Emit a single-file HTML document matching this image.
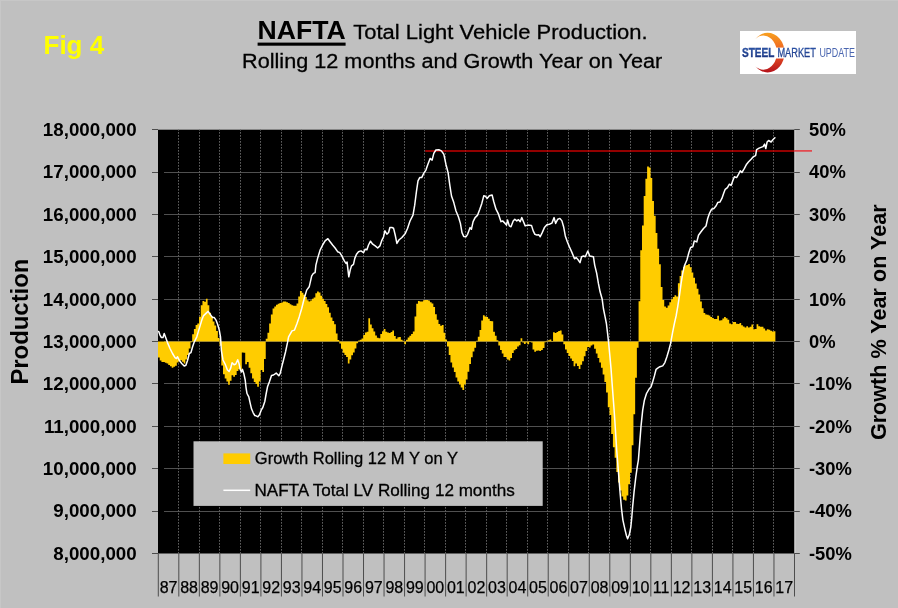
<!DOCTYPE html>
<html lang="en"><head><meta charset="utf-8"><title>NAFTA Total Light Vehicle Production</title>
<style>html,body{margin:0;padding:0;background:#c0c0c0;overflow:hidden}svg{display:block}text{font-family:"Liberation Sans", Arial, Helvetica, sans-serif}</style></head><body>
<svg width="898" height="608" viewBox="0 0 898 608">
<defs><linearGradient id="lg" x1="0" y1="0" x2="0" y2="1"><stop offset="0" stop-color="#f7a01f"/><stop offset="0.5" stop-color="#ee5a24"/><stop offset="1" stop-color="#b5121b"/></linearGradient>
<linearGradient id="tg" x1="0" y1="0" x2="0" y2="1"><stop offset="0" stop-color="#2f62b5"/><stop offset="1" stop-color="#16286e"/></linearGradient></defs>
<rect width="898" height="608" fill="#c0c0c0"/>
<rect x="0" y="0" width="898" height="1" fill="#c7c7c7"/><rect x="0" y="0" width="1" height="608" fill="#c7c7c7"/>
<text transform="translate(257.5,39.4) scale(1.036,1)" font-size="25.7" font-weight="bold" fill="#000">NAFTA</text>
<rect x="257.6" y="42.6" width="88" height="3.1" fill="#000"/>
<text transform="translate(353.3,39.4) scale(1.0466,1)" font-size="21" fill="#000" stroke="#000" stroke-width="0.3">Total Light Vehicle Production.</text>
<text transform="translate(242,68.4) scale(1.032,1)" font-size="21" fill="#000" stroke="#000" stroke-width="0.3">Rolling 12 months and Growth Year on Year</text>
<text transform="translate(43.5,54)" font-size="26" font-weight="bold" fill="#ffff00">Fig 4</text>
<rect x="740" y="31" width="116" height="43" fill="#fff"/>
<path d="M755.4,39 A16.9,19.85 0 1 1 755.4,66.3 A13.4,17.05 0 1 0 755.4,39Z" fill="url(#lg)"/>
<rect x="741" y="47.6" width="114" height="10.9" fill="#fff"/>
<text x="742" y="57.2" font-size="12" font-weight="bold" fill="url(#tg)" stroke="#1d3a8c" stroke-width="0.35" textLength="32.3" lengthAdjust="spacingAndGlyphs">STEEL</text>
<text x="777.4" y="57.2" font-size="12" fill="url(#tg)" stroke="#27479a" stroke-width="0.3" textLength="38.5" lengthAdjust="spacingAndGlyphs">MARKET</text>
<text x="819.4" y="57.2" font-size="12" fill="#4a66b0" textLength="35.5" lengthAdjust="spacingAndGlyphs">UPDATE</text>
<rect x="794.2" y="129.7" width="1.6" height="423.8" fill="#cecece"/>
<rect x="158.0" y="129.7" width="636.2" height="423.8" fill="#000"/>
<line x1="164" x2="794.2" y1="172.5" y2="172.5" stroke="#505050" stroke-width="1"/>
<line x1="164" x2="794.2" y1="214.5" y2="214.5" stroke="#505050" stroke-width="1"/>
<line x1="164" x2="794.2" y1="256.5" y2="256.5" stroke="#505050" stroke-width="1"/>
<line x1="164" x2="794.2" y1="299.5" y2="299.5" stroke="#505050" stroke-width="1"/>
<line x1="164" x2="794.2" y1="341.5" y2="341.5" stroke="#505050" stroke-width="1"/>
<line x1="164" x2="794.2" y1="383.5" y2="383.5" stroke="#505050" stroke-width="1"/>
<line x1="164" x2="794.2" y1="426.5" y2="426.5" stroke="#505050" stroke-width="1"/>
<line x1="164" x2="794.2" y1="468.5" y2="468.5" stroke="#505050" stroke-width="1"/>
<line x1="164" x2="794.2" y1="511.5" y2="511.5" stroke="#505050" stroke-width="1"/>
<line x1="178.5" x2="178.5" y1="129.7" y2="553.5" stroke="#5e5e5e" stroke-width="1" stroke-dasharray="1.7 1.3" stroke-dashoffset="0.7"/>
<line x1="199.5" x2="199.5" y1="129.7" y2="553.5" stroke="#5e5e5e" stroke-width="1" stroke-dasharray="1.7 1.3" stroke-dashoffset="0.7"/>
<line x1="219.5" x2="219.5" y1="129.7" y2="553.5" stroke="#5e5e5e" stroke-width="1" stroke-dasharray="1.7 1.3" stroke-dashoffset="0.7"/>
<line x1="240.5" x2="240.5" y1="129.7" y2="553.5" stroke="#5e5e5e" stroke-width="1" stroke-dasharray="1.7 1.3" stroke-dashoffset="0.7"/>
<line x1="260.5" x2="260.5" y1="129.7" y2="553.5" stroke="#5e5e5e" stroke-width="1" stroke-dasharray="1.7 1.3" stroke-dashoffset="0.7"/>
<line x1="281.5" x2="281.5" y1="129.7" y2="553.5" stroke="#5e5e5e" stroke-width="1" stroke-dasharray="1.7 1.3" stroke-dashoffset="0.7"/>
<line x1="301.5" x2="301.5" y1="129.7" y2="553.5" stroke="#5e5e5e" stroke-width="1" stroke-dasharray="1.7 1.3" stroke-dashoffset="0.7"/>
<line x1="322.5" x2="322.5" y1="129.7" y2="553.5" stroke="#5e5e5e" stroke-width="1" stroke-dasharray="1.7 1.3" stroke-dashoffset="0.7"/>
<line x1="342.5" x2="342.5" y1="129.7" y2="553.5" stroke="#5e5e5e" stroke-width="1" stroke-dasharray="1.7 1.3" stroke-dashoffset="0.7"/>
<line x1="363.5" x2="363.5" y1="129.7" y2="553.5" stroke="#5e5e5e" stroke-width="1" stroke-dasharray="1.7 1.3" stroke-dashoffset="0.7"/>
<line x1="383.5" x2="383.5" y1="129.7" y2="553.5" stroke="#5e5e5e" stroke-width="1" stroke-dasharray="1.7 1.3" stroke-dashoffset="0.7"/>
<line x1="404.5" x2="404.5" y1="129.7" y2="553.5" stroke="#5e5e5e" stroke-width="1" stroke-dasharray="1.7 1.3" stroke-dashoffset="0.7"/>
<line x1="424.5" x2="424.5" y1="129.7" y2="553.5" stroke="#5e5e5e" stroke-width="1" stroke-dasharray="1.7 1.3" stroke-dashoffset="0.7"/>
<line x1="445.5" x2="445.5" y1="129.7" y2="553.5" stroke="#5e5e5e" stroke-width="1" stroke-dasharray="1.7 1.3" stroke-dashoffset="0.7"/>
<line x1="465.5" x2="465.5" y1="129.7" y2="553.5" stroke="#5e5e5e" stroke-width="1" stroke-dasharray="1.7 1.3" stroke-dashoffset="0.7"/>
<line x1="486.5" x2="486.5" y1="129.7" y2="553.5" stroke="#5e5e5e" stroke-width="1" stroke-dasharray="1.7 1.3" stroke-dashoffset="0.7"/>
<line x1="506.5" x2="506.5" y1="129.7" y2="553.5" stroke="#5e5e5e" stroke-width="1" stroke-dasharray="1.7 1.3" stroke-dashoffset="0.7"/>
<line x1="527.5" x2="527.5" y1="129.7" y2="553.5" stroke="#5e5e5e" stroke-width="1" stroke-dasharray="1.7 1.3" stroke-dashoffset="0.7"/>
<line x1="547.5" x2="547.5" y1="129.7" y2="553.5" stroke="#5e5e5e" stroke-width="1" stroke-dasharray="1.7 1.3" stroke-dashoffset="0.7"/>
<line x1="568.5" x2="568.5" y1="129.7" y2="553.5" stroke="#5e5e5e" stroke-width="1" stroke-dasharray="1.7 1.3" stroke-dashoffset="0.7"/>
<line x1="588.5" x2="588.5" y1="129.7" y2="553.5" stroke="#5e5e5e" stroke-width="1" stroke-dasharray="1.7 1.3" stroke-dashoffset="0.7"/>
<line x1="609.5" x2="609.5" y1="129.7" y2="553.5" stroke="#5e5e5e" stroke-width="1" stroke-dasharray="1.7 1.3" stroke-dashoffset="0.7"/>
<line x1="630.5" x2="630.5" y1="129.7" y2="553.5" stroke="#5e5e5e" stroke-width="1" stroke-dasharray="1.7 1.3" stroke-dashoffset="0.7"/>
<line x1="650.5" x2="650.5" y1="129.7" y2="553.5" stroke="#5e5e5e" stroke-width="1" stroke-dasharray="1.7 1.3" stroke-dashoffset="0.7"/>
<line x1="671.5" x2="671.5" y1="129.7" y2="553.5" stroke="#5e5e5e" stroke-width="1" stroke-dasharray="1.7 1.3" stroke-dashoffset="0.7"/>
<line x1="691.5" x2="691.5" y1="129.7" y2="553.5" stroke="#5e5e5e" stroke-width="1" stroke-dasharray="1.7 1.3" stroke-dashoffset="0.7"/>
<line x1="712.5" x2="712.5" y1="129.7" y2="553.5" stroke="#5e5e5e" stroke-width="1" stroke-dasharray="1.7 1.3" stroke-dashoffset="0.7"/>
<line x1="732.5" x2="732.5" y1="129.7" y2="553.5" stroke="#5e5e5e" stroke-width="1" stroke-dasharray="1.7 1.3" stroke-dashoffset="0.7"/>
<line x1="753.5" x2="753.5" y1="129.7" y2="553.5" stroke="#5e5e5e" stroke-width="1" stroke-dasharray="1.7 1.3" stroke-dashoffset="0.7"/>
<line x1="773.5" x2="773.5" y1="129.7" y2="553.5" stroke="#5e5e5e" stroke-width="1" stroke-dasharray="1.7 1.3" stroke-dashoffset="0.7"/>
<path d="M158.00,341.60L158.00,357.5L159.71,357.5L159.71,360.6L161.42,360.6L161.42,361.9L163.13,361.9L163.13,362.1L164.84,362.1L164.84,362.8L166.55,362.8L166.55,363.5L168.26,363.5L168.26,364.9L169.97,364.9L169.97,366.3L171.68,366.3L171.68,367.7L173.39,367.7L173.39,366.8L175.10,366.8L175.10,365.7L176.81,365.7L176.81,362.4L178.52,362.4L178.52,361.1L180.23,361.1L180.23,360.3L181.94,360.3L181.94,361.7L183.65,361.7L183.65,363.4L185.36,363.4L185.36,359.6L187.07,359.6L187.07,354.9L188.78,354.9L188.78,348.6L190.49,348.6L190.49,342.2L192.20,342.2L192.20,334.2L193.91,334.2L193.91,329.1L195.62,329.1L195.62,324.9L197.33,324.9L197.33,323.5L199.05,323.5L199.05,316.7L200.76,316.7L200.76,305.3L202.47,305.3L202.47,301.0L204.18,301.0L204.18,301.7L205.89,301.7L205.89,298.8L207.60,298.8L207.60,305.2L209.31,305.2L209.31,312.7L211.02,312.7L211.02,316.2L212.73,316.2L212.73,321.4L214.44,321.4L214.44,325.6L216.15,325.6L216.15,330.9L217.86,330.9L217.86,338.0L219.57,338.0L219.57,345.7L221.28,345.7L221.28,365.4L222.99,365.4L222.99,374.2L224.70,374.2L224.70,378.5L226.41,378.5L226.41,381.5L228.12,381.5L228.12,384.8L229.83,384.8L229.83,380.8L231.54,380.8L231.54,375.3L233.25,375.3L233.25,376.8L234.96,376.8L234.96,375.1L236.67,375.1L236.67,370.9L238.38,370.9L238.38,369.3L240.09,369.3L240.09,370.6L241.80,370.6L241.80,352.6L243.51,352.6L243.51,352.8L245.22,352.8L245.22,364.2L246.93,364.2L246.93,362.0L248.64,362.0L248.64,367.7L250.35,367.7L250.35,373.3L252.06,373.3L252.06,378.6L253.77,378.6L253.77,382.0L255.48,382.0L255.48,384.0L257.19,384.0L257.19,386.7L258.90,386.7L258.90,381.5L260.61,381.5L260.61,370.1L262.32,370.1L262.32,372.1L264.03,372.1L264.03,358.9L265.74,358.9L265.74,338.7L267.45,338.7L267.45,332.8L269.16,332.8L269.16,323.6L270.87,323.6L270.87,314.4L272.58,314.4L272.58,308.4L274.29,308.4L274.29,306.5L276.00,306.5L276.00,304.7L277.72,304.7L277.72,303.7L279.43,303.7L279.43,303.1L281.14,303.1L281.14,302.5L282.85,302.5L282.85,301.5L284.56,301.5L284.56,301.4L286.27,301.4L286.27,302.2L287.98,302.2L287.98,303.1L289.69,303.1L289.69,304.2L291.40,304.2L291.40,305.3L293.11,305.3L293.11,305.7L294.82,305.7L294.82,305.7L296.53,305.7L296.53,303.6L298.24,303.6L298.24,296.5L299.95,296.5L299.95,291.0L301.66,291.0L301.66,292.7L303.37,292.7L303.37,294.7L305.08,294.7L305.08,297.1L306.79,297.1L306.79,300.3L308.50,300.3L308.50,301.5L310.21,301.5L310.21,300.5L311.92,300.5L311.92,298.8L313.63,298.8L313.63,297.5L315.34,297.5L315.34,293.3L317.05,293.3L317.05,291.6L318.76,291.6L318.76,292.6L320.47,292.6L320.47,295.8L322.18,295.8L322.18,298.8L323.89,298.8L323.89,300.9L325.60,300.9L325.60,303.9L327.31,303.9L327.31,307.2L329.02,307.2L329.02,312.7L330.73,312.7L330.73,317.4L332.44,317.4L332.44,321.1L334.15,321.1L334.15,324.2L335.86,324.2L335.86,333.5L337.57,333.5L337.57,340.1L339.28,340.1L339.28,343.4L340.99,343.4L340.99,348.8L342.70,348.8L342.70,352.8L344.41,352.8L344.41,355.0L346.12,355.0L346.12,357.0L347.83,357.0L347.83,363.6L349.54,363.6L349.54,359.4L351.25,359.4L351.25,355.3L352.96,355.3L352.96,352.4L354.67,352.4L354.67,348.5L356.38,348.5L356.38,343.2L358.10,343.2L358.10,340.5L359.81,340.5L359.81,339.7L361.52,339.7L361.52,338.4L363.23,338.4L363.23,335.1L364.94,335.1L364.94,332.4L366.65,332.4L366.65,331.8L368.36,331.8L368.36,318.2L370.07,318.2L370.07,324.6L371.78,324.6L371.78,328.3L373.49,328.3L373.49,331.4L375.20,331.4L375.20,335.6L376.91,335.6L376.91,337.7L378.62,337.7L378.62,338.3L380.33,338.3L380.33,334.1L382.04,334.1L382.04,331.2L383.75,331.2L383.75,329.1L385.46,329.1L385.46,331.8L387.17,331.8L387.17,332.4L388.88,332.4L388.88,332.9L390.59,332.9L390.59,332.0L392.30,332.0L392.30,330.6L394.01,330.6L394.01,336.0L395.72,336.0L395.72,338.7L397.43,338.7L397.43,337.3L399.14,337.3L399.14,336.9L400.85,336.9L400.85,339.8L402.56,339.8L402.56,340.8L404.27,340.8L404.27,344.2L405.98,344.2L405.98,339.7L407.69,339.7L407.69,337.6L409.40,337.6L409.40,335.8L411.11,335.8L411.11,334.1L412.82,334.1L412.82,331.5L414.53,331.5L414.53,316.5L416.24,316.5L416.24,303.8L417.95,303.8L417.95,301.0L419.66,301.0L419.66,301.4L421.37,301.4L421.37,301.5L423.08,301.5L423.08,300.3L424.79,300.3L424.79,300.0L426.50,300.0L426.50,300.0L428.21,300.0L428.21,300.5L429.92,300.5L429.92,302.2L431.63,302.2L431.63,303.4L433.34,303.4L433.34,307.0L435.05,307.0L435.05,314.2L436.77,314.2L436.77,319.7L438.48,319.7L438.48,324.0L440.19,324.0L440.19,325.7L441.90,325.7L441.90,325.1L443.61,325.1L443.61,332.8L445.32,332.8L445.32,339.5L447.03,339.5L447.03,346.6L448.74,346.6L448.74,355.1L450.45,355.1L450.45,362.5L452.16,362.5L452.16,367.4L453.87,367.4L453.87,371.9L455.58,371.9L455.58,377.6L457.29,377.6L457.29,381.4L459.00,381.4L459.00,384.6L460.71,384.6L460.71,387.5L462.42,387.5L462.42,390.1L464.13,390.1L464.13,384.5L465.84,384.5L465.84,379.5L467.55,379.5L467.55,371.8L469.26,371.8L469.26,364.1L470.97,364.1L470.97,357.2L472.68,357.2L472.68,351.5L474.39,351.5L474.39,347.7L476.10,347.7L476.10,340.8L477.81,340.8L477.81,336.7L479.52,336.7L479.52,330.1L481.23,330.1L481.23,320.5L482.94,320.5L482.94,315.3L484.65,315.3L484.65,316.4L486.36,316.4L486.36,317.1L488.07,317.1L488.07,318.8L489.78,318.8L489.78,321.0L491.49,321.0L491.49,321.3L493.20,321.3L493.20,331.7L494.91,331.7L494.91,335.8L496.62,335.8L496.62,340.3L498.33,340.3L498.33,345.5L500.04,345.5L500.04,350.0L501.75,350.0L501.75,353.4L503.46,353.4L503.46,356.9L505.17,356.9L505.17,357.1L506.88,357.1L506.88,359.6L508.59,359.6L508.59,360.4L510.30,360.4L510.30,358.1L512.01,358.1L512.01,353.1L513.72,353.1L513.72,350.2L515.43,350.2L515.43,348.9L517.15,348.9L517.15,346.6L518.86,346.6L518.86,345.2L520.57,345.2L520.57,338.2L522.28,338.2L522.28,342.4L523.99,342.4L523.99,343.9L525.70,343.9L525.70,342.5L527.41,342.5L527.41,344.3L529.12,344.3L529.12,341.0L530.83,341.0L530.83,342.4L532.54,342.4L532.54,349.5L534.25,349.5L534.25,351.7L535.96,351.7L535.96,350.7L537.67,350.7L537.67,350.4L539.38,350.4L539.38,350.9L541.09,350.9L541.09,350.1L542.80,350.1L542.80,347.9L544.51,347.9L544.51,342.3L546.22,342.3L546.22,340.8L547.93,340.8L547.93,340.3L549.64,340.3L549.64,339.6L551.35,339.6L551.35,341.0L553.06,341.0L553.06,332.3L554.77,332.3L554.77,333.1L556.48,333.1L556.48,332.0L558.19,332.0L558.19,330.9L559.90,330.9L559.90,330.4L561.61,330.4L561.61,334.5L563.32,334.5L563.32,344.2L565.03,344.2L565.03,349.6L566.74,349.6L566.74,353.0L568.45,353.0L568.45,355.9L570.16,355.9L570.16,358.6L571.87,358.6L571.87,360.9L573.58,360.9L573.58,366.2L575.29,366.2L575.29,363.4L577.00,363.4L577.00,366.0L578.71,366.0L578.71,369.1L580.42,369.1L580.42,364.8L582.13,364.8L582.13,361.2L583.84,361.2L583.84,356.2L585.55,356.2L585.55,351.1L587.26,351.1L587.26,346.9L588.97,346.9L588.97,347.5L590.68,347.5L590.68,345.6L592.39,345.6L592.39,344.6L594.10,344.6L594.10,348.7L595.82,348.7L595.82,353.4L597.53,353.4L597.53,358.0L599.24,358.0L599.24,362.6L600.95,362.6L600.95,367.7L602.66,367.7L602.66,374.5L604.37,374.5L604.37,382.0L606.08,382.0L606.08,392.4L607.79,392.4L607.79,407.3L609.50,407.3L609.50,414.9L611.21,414.9L611.21,433.9L612.92,433.9L612.92,447.3L614.63,447.3L614.63,457.8L616.34,457.8L616.34,472.1L618.05,472.1L618.05,482.6L619.76,482.6L619.76,490.6L621.47,490.6L621.47,496.4L623.18,496.4L623.18,499.7L624.89,499.7L624.89,500.6L626.60,500.6L626.60,495.4L628.31,495.4L628.31,484.2L630.02,484.2L630.02,472.8L631.73,472.8L631.73,445.3L633.44,445.3L633.44,414.3L635.15,414.3L635.15,377.8L636.86,377.8L636.86,347.8L638.57,347.8L638.57,301.3L640.28,301.3L640.28,250.3L641.99,250.3L641.99,225.6L643.70,225.6L643.70,195.9L645.41,195.9L645.41,178.7L647.12,178.7L647.12,166.4L648.83,166.4L648.83,167.5L650.54,167.5L650.54,177.9L652.25,177.9L652.25,201.0L653.96,201.0L653.96,215.7L655.67,215.7L655.67,233.1L657.38,233.1L657.38,248.8L659.09,248.8L659.09,264.2L660.80,264.2L660.80,287.0L662.51,287.0L662.51,300.1L664.22,300.1L664.22,306.5L665.93,306.5L665.93,307.7L667.64,307.7L667.64,305.6L669.35,305.6L669.35,302.3L671.06,302.3L671.06,299.3L672.77,299.3L672.77,297.1L674.48,297.1L674.48,295.3L676.20,295.3L676.20,296.6L677.91,296.6L677.91,283.2L679.62,283.2L679.62,275.9L681.33,275.9L681.33,270.6L683.04,270.6L683.04,266.9L684.75,266.9L684.75,265.5L686.46,265.5L686.46,264.9L688.17,264.9L688.17,264.1L689.88,264.1L689.88,267.2L691.59,267.2L691.59,272.5L693.30,272.5L693.30,277.8L695.01,277.8L695.01,283.6L696.72,283.6L696.72,288.8L698.43,288.8L698.43,294.5L700.14,294.5L700.14,301.6L701.85,301.6L701.85,308.2L703.56,308.2L703.56,313.0L705.27,313.0L705.27,314.4L706.98,314.4L706.98,314.8L708.69,314.8L708.69,315.6L710.40,315.6L710.40,317.1L712.11,317.1L712.11,318.0L713.82,318.0L713.82,319.0L715.53,319.0L715.53,319.0L717.24,319.0L717.24,315.8L718.95,315.8L718.95,320.6L720.66,320.6L720.66,320.3L722.37,320.3L722.37,318.6L724.08,318.6L724.08,316.9L725.79,316.9L725.79,318.2L727.50,318.2L727.50,319.8L729.21,319.8L729.21,323.6L730.92,323.6L730.92,324.3L732.63,324.3L732.63,322.1L734.34,322.1L734.34,321.9L736.05,321.9L736.05,323.8L737.76,323.8L737.76,324.1L739.47,324.1L739.47,323.1L741.18,323.1L741.18,325.3L742.89,325.3L742.89,326.6L744.60,326.6L744.60,327.6L746.31,327.6L746.31,326.2L748.02,326.2L748.02,327.4L749.73,327.4L749.73,326.7L751.44,326.7L751.44,324.6L753.15,324.6L753.15,329.2L754.87,329.2L754.87,329.0L756.58,329.0L756.58,324.2L758.29,324.2L758.29,326.2L760.00,326.2L760.00,326.7L761.71,326.7L761.71,326.7L763.42,326.7L763.42,328.5L765.13,328.5L765.13,330.4L766.84,330.4L766.84,329.3L768.55,329.3L768.55,329.8L770.26,329.8L770.26,330.8L771.97,330.8L771.97,331.4L773.68,331.4L773.68,331.2L775.39,331.2L775.39,341.60Z" fill="#ffcc00"/>
<line x1="425.2" x2="794.2" y1="150.9" y2="150.9" stroke="#c40000" stroke-width="1.5"/>
<line x1="794.2" x2="812" y1="150.9" y2="150.9" stroke="#e8343a" stroke-width="1.5"/>
<path d="M158.7,331.4L160.0,335.1L161.4,337.6L163.0,337.6L164.2,333.4L165.4,336.8L167.5,342.6L170.0,348.5L172.5,353.5L175.0,357.7L176.4,358.5L177.6,356.8L179.2,360.2L181.7,363.5L184.2,366.0L185.9,365.2L187.6,360.2L189.3,353.5L190.9,352.7L192.6,346.8L194.3,341.8L196.8,336.8L199.3,328.4L201.8,320.1L203.4,315.9L206.0,313.4L208.1,311.4L210.1,314.2L212.6,317.6L214.3,317.6L216.0,320.1L217.6,324.3L219.3,330.1L220.5,336.8L221.4,350.7L223.0,360.0L225.4,364.7L227.4,370.0L229.1,371.4L230.5,368.7L232.1,362.7L234.1,364.7L235.8,364.0L237.7,359.8L239.0,363.4L240.4,370.0L241.4,372.0L242.5,369.4L243.8,373.4L245.2,380.0L246.1,388.1L247.0,393.5L248.8,396.8L250.1,402.8L251.5,408.8L253.2,412.8L254.8,415.5L256.1,415.9L257.9,416.8L259.5,414.8L261.2,410.2L262.8,407.5L264.8,401.5L266.2,393.5L267.5,386.8L269.5,381.4L271.5,375.4L273.5,375.0L276.2,373.1L278.8,375.8L280.2,373.4L281.8,366.7L283.5,360.0L285.5,352.0L287.5,342.7L288.6,336.8L292.0,330.9L294.5,330.1L297.0,323.4L299.2,316.9L301.7,308.5L304.2,298.5L306.7,290.1L309.2,286.8L311.7,275.9L313.4,273.4L315.1,272.6L315.9,265.1L317.6,258.4L320.1,250.1L322.6,245.0L325.1,240.9L327.9,238.7L330.1,241.7L332.6,245.0L335.1,248.0L337.6,251.7L339.8,252.6L341.8,255.9L344.3,260.9L346.0,263.4L347.1,262.1L348.0,270.1L348.8,276.8L350.2,270.1L351.5,265.9L353.5,264.3L354.8,258.4L356.5,254.2L358.5,251.7L361.0,250.9L363.5,252.6L365.2,249.2L366.9,249.7L368.5,245.0L370.5,241.2L372.7,244.2L375.2,245.9L377.7,248.0L379.9,245.9L381.6,240.9L383.6,236.7L384.9,230.8L386.9,234.2L388.6,232.5L389.9,227.5L391.9,227.5L393.6,228.3L395.2,235.0L396.9,243.4L398.9,240.0L401.9,237.5L405.3,233.4L407.5,228.5L410.0,221.0L413.0,215.2L414.7,205.2L416.4,191.8L418.0,180.9L419.7,177.6L421.7,177.6L423.7,173.4L425.9,170.1L427.9,164.2L430.1,158.4L432.1,160.1L433.8,153.4L435.9,150.0L438.8,149.7L441.4,150.9L443.8,154.2L445.9,164.2L448.1,172.6L449.8,185.1L451.5,196.0L453.8,202.6L456.0,211.0L458.4,216.7L460.4,223.4L462.0,232.6L463.7,236.4L465.9,236.8L467.6,234.3L470.1,227.6L471.4,229.3L473.1,221.7L475.1,217.6L477.6,215.1L479.8,209.2L481.8,203.4L483.8,195.8L485.4,196.3L487.1,198.4L489.3,195.8L492.1,195.0L493.8,201.7L496.0,209.2L498.5,214.2L501.0,221.7L502.6,220.9L505.1,223.4L506.5,225.1L507.6,220.1L509.3,225.9L511.0,226.7L513.2,220.9L514.8,219.2L516.8,220.9L518.5,219.7L520.2,221.7L521.8,217.6L523.5,221.7L525.2,225.9L527.7,225.1L531.5,225.4L533.2,230.9L534.9,234.3L536.9,235.1L538.9,234.8L540.2,236.8L542.2,232.6L544.4,227.6L546.9,224.7L549.4,224.2L551.9,223.1L554.1,217.6L555.6,223.4L557.8,219.2L559.9,218.4L561.9,220.9L563.6,226.7L565.3,235.9L567.3,241.8L569.4,246.8L572.0,252.6L574.5,258.8L576.1,257.6L578.3,260.1L580.0,262.7L581.6,256.8L583.6,256.0L585.3,256.8L587.8,251.0L589.7,255.9L593.4,256.7L594.7,265.1L596.7,273.4L598.4,283.4L600.1,291.8L602.2,299.3L603.4,308.5L605.1,316.8L606.4,323.5L607.6,333.5L608.5,341.7L609.8,355.1L611.0,368.4L612.1,383.4L613.1,396.8L614.0,408.5L614.8,420.2L616.7,450.1L618.6,474.3L620.1,492.9L621.5,508.6L622.9,520.1L625.1,530.1L626.5,535.8L627.6,538.7L629.4,534.4L630.8,527.2L631.8,517.2L632.6,507.2L634.1,491.5L635.8,477.2L637.2,467.2L638.4,460.0L639.6,444.5L641.0,426.4L642.7,410.2L644.4,400.2L646.5,393.5L648.9,389.3L651.1,386.8L652.7,381.8L654.4,375.9L656.1,369.3L657.7,368.1L659.9,366.7L662.7,365.9L664.9,362.6L666.9,356.7L668.9,350.0L670.6,343.4L672.7,331.9L674.4,323.5L676.1,316.0L677.7,306.8L679.4,296.0L681.1,283.4L682.7,273.4L684.4,265.9L686.9,260.0L688.9,252.5L690.6,247.5L692.8,246.7L694.3,241.0L696.8,241.9L698.5,235.2L701.0,231.8L703.5,228.5L706.0,226.0L707.7,218.5L709.4,213.5L711.5,209.3L713.9,208.5L716.0,206.0L717.7,202.6L719.9,202.1L721.9,198.4L723.6,193.4L725.2,189.3L727.4,187.6L729.4,184.2L731.1,185.4L732.7,180.9L734.4,176.7L736.6,177.6L738.6,174.2L740.3,170.9L741.9,172.5L744.4,168.4L746.6,164.2L748.6,161.7L751.1,159.2L753.3,156.7L755.6,155.6L756.6,149.6L759.1,148.1L761.6,147.1L763.1,146.6L764.6,144.1L765.8,148.6L767.1,142.0L768.6,140.5L771.1,142.0L773.1,139.5L774.9,137.8" fill="none" stroke="#fff" stroke-width="1.5" stroke-linejoin="round" stroke-linecap="round"/>
<line x1="152" x2="158.0" y1="129.5" y2="129.5" stroke="#4d4d4d" stroke-width="1"/>
<line x1="794.2" x2="799.8" y1="129.5" y2="129.5" stroke="#4d4d4d" stroke-width="1"/>
<line x1="152" x2="158.0" y1="172.5" y2="172.5" stroke="#4d4d4d" stroke-width="1"/>
<line x1="794.2" x2="799.8" y1="172.5" y2="172.5" stroke="#4d4d4d" stroke-width="1"/>
<line x1="152" x2="158.0" y1="214.5" y2="214.5" stroke="#4d4d4d" stroke-width="1"/>
<line x1="794.2" x2="799.8" y1="214.5" y2="214.5" stroke="#4d4d4d" stroke-width="1"/>
<line x1="152" x2="158.0" y1="256.5" y2="256.5" stroke="#4d4d4d" stroke-width="1"/>
<line x1="794.2" x2="799.8" y1="256.5" y2="256.5" stroke="#4d4d4d" stroke-width="1"/>
<line x1="152" x2="158.0" y1="299.5" y2="299.5" stroke="#4d4d4d" stroke-width="1"/>
<line x1="794.2" x2="799.8" y1="299.5" y2="299.5" stroke="#4d4d4d" stroke-width="1"/>
<line x1="152" x2="158.0" y1="341.5" y2="341.5" stroke="#4d4d4d" stroke-width="1"/>
<line x1="794.2" x2="799.8" y1="341.5" y2="341.5" stroke="#4d4d4d" stroke-width="1"/>
<line x1="152" x2="158.0" y1="383.5" y2="383.5" stroke="#4d4d4d" stroke-width="1"/>
<line x1="794.2" x2="799.8" y1="383.5" y2="383.5" stroke="#4d4d4d" stroke-width="1"/>
<line x1="152" x2="158.0" y1="426.5" y2="426.5" stroke="#4d4d4d" stroke-width="1"/>
<line x1="794.2" x2="799.8" y1="426.5" y2="426.5" stroke="#4d4d4d" stroke-width="1"/>
<line x1="152" x2="158.0" y1="468.5" y2="468.5" stroke="#4d4d4d" stroke-width="1"/>
<line x1="794.2" x2="799.8" y1="468.5" y2="468.5" stroke="#4d4d4d" stroke-width="1"/>
<line x1="152" x2="158.0" y1="511.5" y2="511.5" stroke="#4d4d4d" stroke-width="1"/>
<line x1="794.2" x2="799.8" y1="511.5" y2="511.5" stroke="#4d4d4d" stroke-width="1"/>
<line x1="152" x2="158.0" y1="553.5" y2="553.5" stroke="#4d4d4d" stroke-width="1"/>
<line x1="794.2" x2="799.8" y1="553.5" y2="553.5" stroke="#4d4d4d" stroke-width="1"/>
<line x1="158.30" x2="158.30" y1="553.5" y2="596.5" stroke="#4d4d4d" stroke-width="1"/>
<line x1="178.82" x2="178.82" y1="553.5" y2="596.5" stroke="#4d4d4d" stroke-width="1"/>
<line x1="199.35" x2="199.35" y1="553.5" y2="596.5" stroke="#4d4d4d" stroke-width="1"/>
<line x1="219.87" x2="219.87" y1="553.5" y2="596.5" stroke="#4d4d4d" stroke-width="1"/>
<line x1="240.39" x2="240.39" y1="553.5" y2="596.5" stroke="#4d4d4d" stroke-width="1"/>
<line x1="260.91" x2="260.91" y1="553.5" y2="596.5" stroke="#4d4d4d" stroke-width="1"/>
<line x1="281.44" x2="281.44" y1="553.5" y2="596.5" stroke="#4d4d4d" stroke-width="1"/>
<line x1="301.96" x2="301.96" y1="553.5" y2="596.5" stroke="#4d4d4d" stroke-width="1"/>
<line x1="322.48" x2="322.48" y1="553.5" y2="596.5" stroke="#4d4d4d" stroke-width="1"/>
<line x1="343.00" x2="343.00" y1="553.5" y2="596.5" stroke="#4d4d4d" stroke-width="1"/>
<line x1="363.53" x2="363.53" y1="553.5" y2="596.5" stroke="#4d4d4d" stroke-width="1"/>
<line x1="384.05" x2="384.05" y1="553.5" y2="596.5" stroke="#4d4d4d" stroke-width="1"/>
<line x1="404.57" x2="404.57" y1="553.5" y2="596.5" stroke="#4d4d4d" stroke-width="1"/>
<line x1="425.09" x2="425.09" y1="553.5" y2="596.5" stroke="#4d4d4d" stroke-width="1"/>
<line x1="445.62" x2="445.62" y1="553.5" y2="596.5" stroke="#4d4d4d" stroke-width="1"/>
<line x1="466.14" x2="466.14" y1="553.5" y2="596.5" stroke="#4d4d4d" stroke-width="1"/>
<line x1="486.66" x2="486.66" y1="553.5" y2="596.5" stroke="#4d4d4d" stroke-width="1"/>
<line x1="507.18" x2="507.18" y1="553.5" y2="596.5" stroke="#4d4d4d" stroke-width="1"/>
<line x1="527.71" x2="527.71" y1="553.5" y2="596.5" stroke="#4d4d4d" stroke-width="1"/>
<line x1="548.23" x2="548.23" y1="553.5" y2="596.5" stroke="#4d4d4d" stroke-width="1"/>
<line x1="568.75" x2="568.75" y1="553.5" y2="596.5" stroke="#4d4d4d" stroke-width="1"/>
<line x1="589.27" x2="589.27" y1="553.5" y2="596.5" stroke="#4d4d4d" stroke-width="1"/>
<line x1="609.80" x2="609.80" y1="553.5" y2="596.5" stroke="#4d4d4d" stroke-width="1"/>
<line x1="630.32" x2="630.32" y1="553.5" y2="596.5" stroke="#4d4d4d" stroke-width="1"/>
<line x1="650.84" x2="650.84" y1="553.5" y2="596.5" stroke="#4d4d4d" stroke-width="1"/>
<line x1="671.36" x2="671.36" y1="553.5" y2="596.5" stroke="#4d4d4d" stroke-width="1"/>
<line x1="691.89" x2="691.89" y1="553.5" y2="596.5" stroke="#4d4d4d" stroke-width="1"/>
<line x1="712.41" x2="712.41" y1="553.5" y2="596.5" stroke="#4d4d4d" stroke-width="1"/>
<line x1="732.93" x2="732.93" y1="553.5" y2="596.5" stroke="#4d4d4d" stroke-width="1"/>
<line x1="753.45" x2="753.45" y1="553.5" y2="596.5" stroke="#4d4d4d" stroke-width="1"/>
<line x1="773.98" x2="773.98" y1="553.5" y2="596.5" stroke="#4d4d4d" stroke-width="1"/>
<line x1="794.50" x2="794.50" y1="553.5" y2="596.5" stroke="#4d4d4d" stroke-width="1"/>
<text transform="translate(136.7,136.0) scale(1.073,1)" font-size="17.5" font-weight="bold" text-anchor="end" fill="#000">18,000,000</text>
<text transform="translate(136.7,178.4) scale(1.073,1)" font-size="17.5" font-weight="bold" text-anchor="end" fill="#000">17,000,000</text>
<text transform="translate(136.7,220.8) scale(1.073,1)" font-size="17.5" font-weight="bold" text-anchor="end" fill="#000">16,000,000</text>
<text transform="translate(136.7,263.1) scale(1.073,1)" font-size="17.5" font-weight="bold" text-anchor="end" fill="#000">15,000,000</text>
<text transform="translate(136.7,305.5) scale(1.073,1)" font-size="17.5" font-weight="bold" text-anchor="end" fill="#000">14,000,000</text>
<text transform="translate(136.7,347.9) scale(1.073,1)" font-size="17.5" font-weight="bold" text-anchor="end" fill="#000">13,000,000</text>
<text transform="translate(136.7,390.3) scale(1.073,1)" font-size="17.5" font-weight="bold" text-anchor="end" fill="#000">12,000,000</text>
<text transform="translate(136.7,432.7) scale(1.073,1)" font-size="17.5" font-weight="bold" text-anchor="end" fill="#000">11,000,000</text>
<text transform="translate(136.7,475.0) scale(1.073,1)" font-size="17.5" font-weight="bold" text-anchor="end" fill="#000">10,000,000</text>
<text transform="translate(136.7,517.4) scale(1.073,1)" font-size="17.5" font-weight="bold" text-anchor="end" fill="#000">9,000,000</text>
<text transform="translate(136.7,559.8) scale(1.073,1)" font-size="17.5" font-weight="bold" text-anchor="end" fill="#000">8,000,000</text>
<text transform="translate(809.0,136.0) scale(1.05,1)" font-size="17.5" font-weight="bold" fill="#000">50%</text>
<text transform="translate(809.0,178.4) scale(1.05,1)" font-size="17.5" font-weight="bold" fill="#000">40%</text>
<text transform="translate(809.0,220.8) scale(1.05,1)" font-size="17.5" font-weight="bold" fill="#000">30%</text>
<text transform="translate(809.0,263.1) scale(1.05,1)" font-size="17.5" font-weight="bold" fill="#000">20%</text>
<text transform="translate(809.0,305.5) scale(1.05,1)" font-size="17.5" font-weight="bold" fill="#000">10%</text>
<text transform="translate(809.0,347.9) scale(1.05,1)" font-size="17.5" font-weight="bold" fill="#000">0%</text>
<text transform="translate(809.0,390.3) scale(1.05,1)" font-size="17.5" font-weight="bold" fill="#000">-10%</text>
<text transform="translate(809.0,432.7) scale(1.05,1)" font-size="17.5" font-weight="bold" fill="#000">-20%</text>
<text transform="translate(809.0,475.0) scale(1.05,1)" font-size="17.5" font-weight="bold" fill="#000">-30%</text>
<text transform="translate(809.0,517.4) scale(1.05,1)" font-size="17.5" font-weight="bold" fill="#000">-40%</text>
<text transform="translate(809.0,559.8) scale(1.05,1)" font-size="17.5" font-weight="bold" fill="#000">-50%</text>
<text x="168.56" y="592.6" font-size="16" text-anchor="middle" fill="#000" stroke="#000" stroke-width="0.25">87</text>
<text x="189.08" y="592.6" font-size="16" text-anchor="middle" fill="#000" stroke="#000" stroke-width="0.25">88</text>
<text x="209.61" y="592.6" font-size="16" text-anchor="middle" fill="#000" stroke="#000" stroke-width="0.25">89</text>
<text x="230.13" y="592.6" font-size="16" text-anchor="middle" fill="#000" stroke="#000" stroke-width="0.25">90</text>
<text x="250.65" y="592.6" font-size="16" text-anchor="middle" fill="#000" stroke="#000" stroke-width="0.25">91</text>
<text x="271.17" y="592.6" font-size="16" text-anchor="middle" fill="#000" stroke="#000" stroke-width="0.25">92</text>
<text x="291.70" y="592.6" font-size="16" text-anchor="middle" fill="#000" stroke="#000" stroke-width="0.25">93</text>
<text x="312.22" y="592.6" font-size="16" text-anchor="middle" fill="#000" stroke="#000" stroke-width="0.25">94</text>
<text x="332.74" y="592.6" font-size="16" text-anchor="middle" fill="#000" stroke="#000" stroke-width="0.25">95</text>
<text x="353.26" y="592.6" font-size="16" text-anchor="middle" fill="#000" stroke="#000" stroke-width="0.25">96</text>
<text x="373.79" y="592.6" font-size="16" text-anchor="middle" fill="#000" stroke="#000" stroke-width="0.25">97</text>
<text x="394.31" y="592.6" font-size="16" text-anchor="middle" fill="#000" stroke="#000" stroke-width="0.25">98</text>
<text x="414.83" y="592.6" font-size="16" text-anchor="middle" fill="#000" stroke="#000" stroke-width="0.25">99</text>
<text x="435.35" y="592.6" font-size="16" text-anchor="middle" fill="#000" stroke="#000" stroke-width="0.25">00</text>
<text x="455.88" y="592.6" font-size="16" text-anchor="middle" fill="#000" stroke="#000" stroke-width="0.25">01</text>
<text x="476.40" y="592.6" font-size="16" text-anchor="middle" fill="#000" stroke="#000" stroke-width="0.25">02</text>
<text x="496.92" y="592.6" font-size="16" text-anchor="middle" fill="#000" stroke="#000" stroke-width="0.25">03</text>
<text x="517.45" y="592.6" font-size="16" text-anchor="middle" fill="#000" stroke="#000" stroke-width="0.25">04</text>
<text x="537.97" y="592.6" font-size="16" text-anchor="middle" fill="#000" stroke="#000" stroke-width="0.25">05</text>
<text x="558.49" y="592.6" font-size="16" text-anchor="middle" fill="#000" stroke="#000" stroke-width="0.25">06</text>
<text x="579.01" y="592.6" font-size="16" text-anchor="middle" fill="#000" stroke="#000" stroke-width="0.25">07</text>
<text x="599.54" y="592.6" font-size="16" text-anchor="middle" fill="#000" stroke="#000" stroke-width="0.25">08</text>
<text x="620.06" y="592.6" font-size="16" text-anchor="middle" fill="#000" stroke="#000" stroke-width="0.25">09</text>
<text x="640.58" y="592.6" font-size="16" text-anchor="middle" fill="#000" stroke="#000" stroke-width="0.25">10</text>
<text x="661.10" y="592.6" font-size="16" text-anchor="middle" fill="#000" stroke="#000" stroke-width="0.25">11</text>
<text x="681.63" y="592.6" font-size="16" text-anchor="middle" fill="#000" stroke="#000" stroke-width="0.25">12</text>
<text x="702.15" y="592.6" font-size="16" text-anchor="middle" fill="#000" stroke="#000" stroke-width="0.25">13</text>
<text x="722.67" y="592.6" font-size="16" text-anchor="middle" fill="#000" stroke="#000" stroke-width="0.25">14</text>
<text x="743.19" y="592.6" font-size="16" text-anchor="middle" fill="#000" stroke="#000" stroke-width="0.25">15</text>
<text x="763.72" y="592.6" font-size="16" text-anchor="middle" fill="#000" stroke="#000" stroke-width="0.25">16</text>
<text x="784.24" y="592.6" font-size="16" text-anchor="middle" fill="#000" stroke="#000" stroke-width="0.25">17</text>
<text transform="translate(28.1,321.6) rotate(-90) scale(1.012,1)" font-size="23.6" font-weight="bold" text-anchor="middle" fill="#000">Production</text>
<text transform="translate(886.4,322.2) rotate(-90) scale(1.01,1)" font-size="21.4" font-weight="bold" text-anchor="middle" fill="#000">Growth % Year on Year</text>
<rect x="193.5" y="441.3" width="349.2" height="64.6" fill="#c0c0c0"/>
<rect x="223.4" y="453.4" width="26.8" height="10.6" fill="#ffcc00"/>
<line x1="223.4" x2="250.2" y1="490.3" y2="490.3" stroke="#fff" stroke-width="1.5"/>
<text transform="translate(254.8,464) scale(0.997,1)" font-size="16.6" fill="#000" stroke="#000" stroke-width="0.3">Growth Rolling 12 M Y on Y</text>
<text transform="translate(254.4,496.2) scale(1.03,1)" font-size="16.6" fill="#000" stroke="#000" stroke-width="0.3">NAFTA Total LV Rolling 12 months</text>
</svg></body></html>
